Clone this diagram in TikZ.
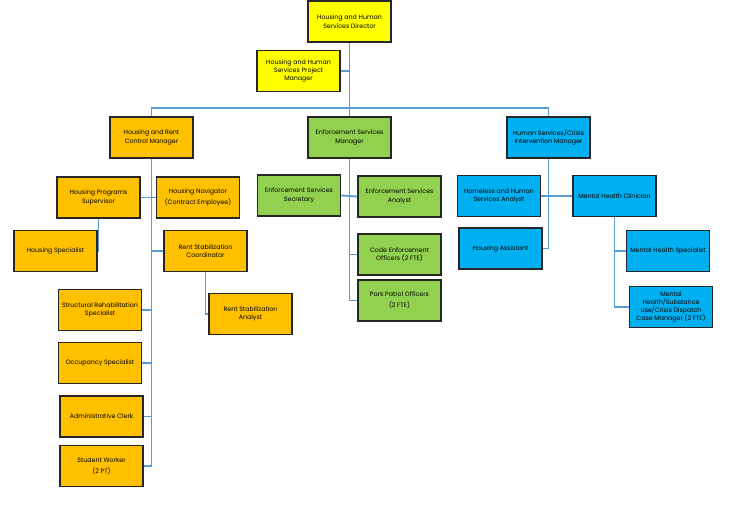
\documentclass[tikz,border=0pt]{standalone}
\usepackage{fontspec}
\setmainfont{Poppins}
\usepackage{tikz}
\usetikzlibrary{positioning}
\definecolor{diryellow}{HTML}{FFFF00}
\definecolor{hrorange}{HTML}{FFC000}
\definecolor{enfgreen}{HTML}{92D050}
\definecolor{hsblue}{HTML}{00B0F0}
\definecolor{linkblue}{HTML}{5B9BD5}
\definecolor{edge}{HTML}{262626}

\begin{document}
\begin{tikzpicture}[x=1pt,y=-1pt, every node/.style={font=\fontsize{6.3}{8.3}\selectfont}, box/.style={draw=edge,line width=1.5pt,align=center,minimum height=41pt,minimum width=83pt,inner sep=1pt}, dirbox/.style={box,fill=diryellow}, hrbox/.style={box,fill=hrorange}, enfbox/.style={box,fill=enfgreen}, hsbox/.style={box,fill=hsblue}, conn/.style={draw=linkblue,line width=1.8pt}]
\useasboundingbox (0,0) rectangle (740,509);
% top
\node[dirbox] (dir) at (349.5,21.5) {Housing and Human\\Services Director};
\node[dirbox] (pm) at (298.5,71) {Housing and Human\\Services Project\\Manager};
% managers
\node[hrbox] (hrc) at (151.5,137.5) {Housing and Rent\\Control Manager};
\node[enfbox] (esm) at (349.5,137.5) {Enforcement Services\\Manager};
\node[hsbox] (hsc) at (548.5,137.5) {Human Services/Crisis\\Intervention Manager};
% housing and rent control
\node[hrbox] (hps) at (98.5,197.5) {Housing Programs\\Supervisor};
\node[hrbox] (hn) at (198,197.5) {Housing Navigator\\[3pt](Contract Employee)};
\node[hrbox] (hs) at (55.5,251) {Housing Specialist};
\node[hrbox] (rsc) at (205.5,251) {Rent Stabilization\\Coordinator};
\node[hrbox] (rsa) at (250.5,314) {Rent Stabilization\\Analyst};
\node[hrbox] (srs) at (100,310) {Structural Rehabilitation\\Specialist};
\node[hrbox] (occ) at (100,363) {Occupancy Specialist};
\node[hrbox] (adm) at (101.5,416.5) {Administrative Clerk};
\node[hrbox] (sw) at (101.5,466) {Student Worker\\[3pt](2 PT)};
% enforcement
\node[enfbox] (ess) at (299,195.5) {Enforcement Services\\Secretary};
\node[enfbox] (esa) at (399.5,196.5) {Enforcement Services\\Analyst};
\node[enfbox] (ceo) at (399.5,254.5) {Code Enforcement\\Officers (2 FTE)};
\node[enfbox] (ppo) at (399.5,300.5) {Park Patrol Officers\\[3pt](2 FTE)};
% human services
\node[hsbox] (hha) at (499,196) {Homeless and Human\\Services Analyst};
\node[hsbox] (mhc) at (614.5,196) {Mental Health Clinician};
\node[hsbox] (ha) at (500.5,248.5) {Housing Assistant};
\node[hsbox] (mhs) at (668,251) {Mental Health Specialist};
\node[hsbox] (mcm) at (671,307) {Mental\\Health/Substance\\Use/Crisis Dispatch\\Case Manager (2 FTE)};
\coordinate (bar) at (349.5,108);
% links
\draw[conn] (dir.south) -- (esm.north);
\draw[conn] (pm.east) -- (pm.east -| dir.south);
\draw[conn] (hrc.north) |- (bar) -| (hsc.north);
\draw[conn] (hrc.south) |- (sw.east);
\draw[conn] (hps.east) -- (hn.west);
\draw[conn] (hps.south) |- (hs.east);
\draw[conn] (rsc.west) -- (rsc.west -| hrc.south);
\draw[conn] (rsc.south) |- (rsa.west);
\draw[conn] (srs.east) -- (srs.east -| hrc.south);
\draw[conn] (occ.east) -- (occ.east -| hrc.south);
\draw[conn] (adm.east) -- (adm.east -| hrc.south);
\draw[conn] (esm.south) |- (ppo.west);
\draw[conn] (ess.east) -- (esa.west);
\draw[conn] (ceo.west) -- (ceo.west -| esm.south);
\draw[conn] (hsc.south) |- (ha.east);
\draw[conn] (hha.east) -- (mhc.west);
\draw[conn] (mhc.south) |- (mcm.west);
\draw[conn] (mhs.west) -- (mhs.west -| mhc.south);
\end{tikzpicture}
\end{document}
